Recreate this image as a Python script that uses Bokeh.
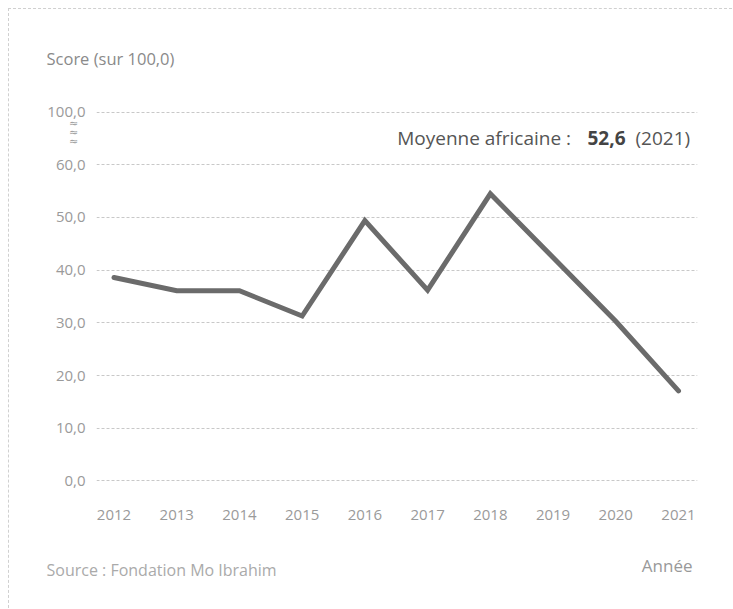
from bokeh.plotting import figure
from bokeh.models import Range1d, FixedTicker, Label
from bokeh.embed import file_html
from bokeh.resources import INLINE

# ---- data ----
years = [2012, 2013, 2014, 2015, 2016, 2017, 2018, 2019, 2020, 2021]
scores = [38.6, 36.1, 36.1, 31.3, 49.4, 36.2, 54.5, 42.4, 30.3, 17.1]
y_ticks = [0, 10, 20, 30, 40, 50, 60, 70]          # 70 = broken-axis slot for 100
y_tick_labels = ["0,0", "10,0", "20,0", "30,0", "40,0", "50,0", "60,0", "100,0"]
x_tick_labels = [str(y) for y in years]

FONT = "Open Sans"
TICK_COLOR = "#9a9a9a"

p = figure(width=724, height=600, output_backend="svg", toolbar_location=None,
           x_range=Range1d(2011.721, 2021.303), y_range=Range1d(-2, 72.2),
           min_border_left=87, min_border_right=36, min_border_top=91, min_border_bottom=118,
           styles={"border-top": "1px dashed #d0d0d0", "border-left": "1px dashed #d0d0d0",
                   "margin-left": "8px", "margin-top": "8px"})
p.outline_line_color = None
p.background_fill_color = "white"
p.border_fill_color = "white"

# axes
p.xaxis.ticker = FixedTicker(ticks=years)
p.xaxis.major_label_overrides = {y: s for y, s in zip(years, x_tick_labels)}
p.yaxis.ticker = FixedTicker(ticks=y_ticks)
p.yaxis.major_label_overrides = {t: s for t, s in zip(y_ticks, y_tick_labels)}
for ax in (p.xaxis, p.yaxis):
    ax.axis_line_color = None
    ax.major_tick_line_color = None
    ax.minor_tick_line_color = None
    ax.major_tick_out = 0
    ax.major_tick_in = 0
    ax.major_label_text_font = FONT
    ax.major_label_text_font_size = "15px"
    ax.major_label_text_color = TICK_COLOR
p.xaxis.major_label_standoff = 18
p.yaxis.major_label_standoff = 11

# grid
p.xgrid.grid_line_color = None
p.ygrid.ticker = FixedTicker(ticks=y_ticks)
p.ygrid.grid_line_color = "#c8c8c8"
p.ygrid.grid_line_dash = "3 2"
p.ygrid.grid_line_width = 1

# line
p.line(years, scores, line_width=5, line_color="#6b6b6b", line_join="miter", line_cap="round")

# texts (screen units relative to their panel box)
def lab(text, x, y, size, color, align="left", baseline="alphabetic", style="normal",
        font=FONT, line_height=1.2):
    return Label(x=x, y=y, x_units="screen", y_units="screen", text=text,
                 text_font=font, text_font_size=size, text_color=color,
                 text_align=align, text_baseline=baseline, text_font_style=style,
                 text_line_height=line_height)

# inside the frame
p.add_layout(lab("Moyenne africaine : ", 300.7, 354, "19px", "#555555"))
p.add_layout(lab("52,6", 491, 354, "19px", "#444444", style="bold"))
p.add_layout(lab("(2021)", 539, 354, "19px", "#555555"))
# outside the frame
p.add_layout(lab("Score (sur 100,0)", -50, 42, "16.5px", "#8a8a8a"), "above")
p.add_layout(lab("Source : Fondation Mo Ibrahim", -50, -25.7, "16px", "#aaaaaa"), "below")
p.add_layout(lab("Année", 596, 2.3, "17px", "#999999", align="right"), "below")
p.add_layout(lab("\u2248\n\u2248\n\u2248", 38, 359.2, "11px", "#9a9a9a", align="center",
                 baseline="middle", font="DejaVu Sans", line_height=0.7), "left")

open("out.html", "w").write(file_html(p, INLINE))
